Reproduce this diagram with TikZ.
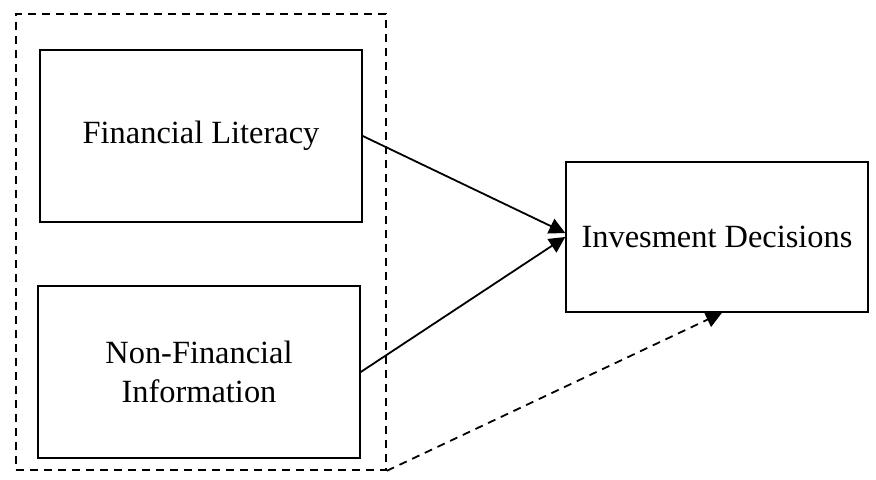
\documentclass[tikz,border=0pt]{standalone}
\usepackage{fontspec}
\setmainfont{Liberation Serif}
\usetikzlibrary{arrows.meta}
\begin{document}
\begin{tikzpicture}[x=0.5pt, y=-0.5pt,
  varbox/.style={draw, line width=0.75pt, minimum width=161pt, minimum height=86pt,
    align=center, font=\fontsize{16.2}{19.5}\selectfont, inner sep=0pt},
  groupbox/.style={draw, dash pattern=on 4pt off 3pt, line width=0.8pt, minimum width=185pt, minimum height=228pt, inner sep=0pt},
  link/.style={line width=0.9pt, -{Triangle[length=8pt, width=8pt]}}]

  % page frame
  \useasboundingbox (0,0) rectangle (876,479);

  % independent variables
  \node[groupbox] (grp) at (201,242) {};
  \node[varbox] (fl) at (201,136) {Financial Literacy};
  \node[varbox] (nfi) at (199,372) {Non-Financial\\Information};

  % dependent variable
  \node[varbox, minimum width=151pt, minimum height=75pt] (id) at (717,237) {Invesment Decisions};

  % relations
  \draw[link] (fl.east) -- ([yshift=2pt]id.west);
  \draw[link] (nfi.east) -- (id.west);
  \draw[link, dash pattern=on 4pt off 3pt] (grp.south east) -- ([xshift=2.5pt]id.south);

\end{tikzpicture}
\end{document}
